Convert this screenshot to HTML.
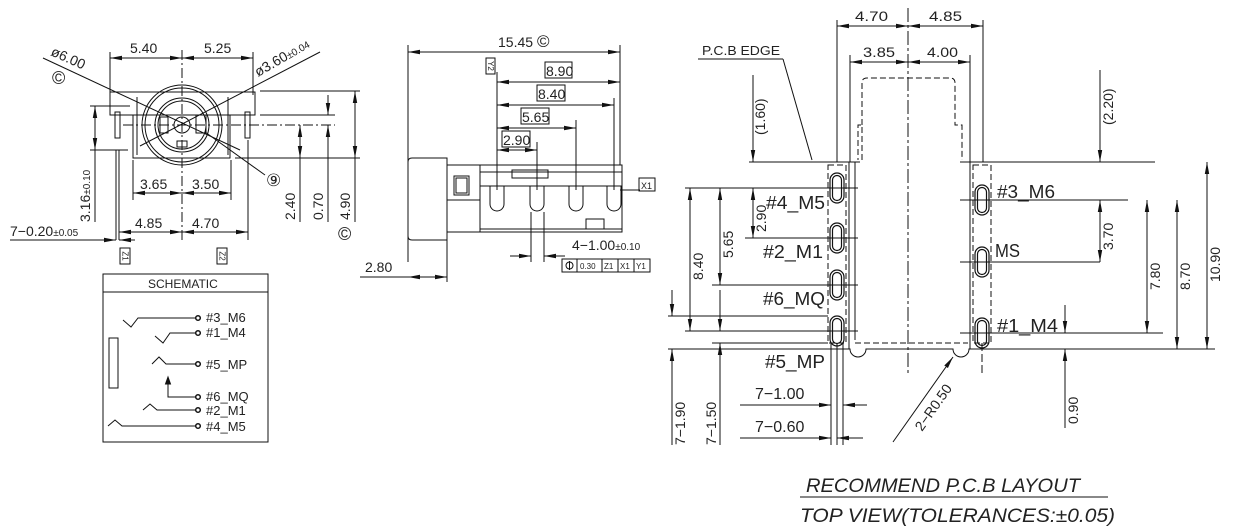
<!DOCTYPE html>
<html><head><meta charset="utf-8"><style>
html,body{margin:0;padding:0;background:#fff}
svg{display:block}
text{font-family:"Liberation Sans",sans-serif;fill:#222}
</style></head><body>
<svg width="1244" height="532" viewBox="0 0 1244 532" xmlns="http://www.w3.org/2000/svg">
<defs>
<marker id="a" markerWidth="12" markerHeight="6" refX="12" refY="3" orient="auto-start-reverse" markerUnits="userSpaceOnUse"><path d="M0,0.8 L12,3 L0,5.2z" fill="#111"/></marker>
</defs>
<g stroke="#111" stroke-width="1" fill="none">
<!-- LEFT VIEW -->
<line x1="110" y1="52" x2="110" y2="95"/><line x1="253" y1="52" x2="253" y2="95"/>
<line x1="110" y1="58" x2="182" y2="58" marker-start="url(#a)" marker-end="url(#a)"/>
<line x1="182" y1="58" x2="253" y2="58" marker-start="url(#a)" marker-end="url(#a)"/>
<line x1="182" y1="50" x2="182" y2="240" stroke-dasharray="10,3,2,3"/>
<line x1="123" y1="125" x2="335" y2="125" stroke-dasharray="10,3,2,3"/>
<rect x="110" y="92" width="145" height="23"/>
<path d="M133 115 V158 H230 V115"/>
<path d="M137 97 V155 M228 97 V155"/>
<circle cx="182" cy="125" r="40"/><circle cx="182" cy="125" r="37"/>
<circle cx="182" cy="125" r="27"/><circle cx="182" cy="125" r="24"/>
<circle cx="182" cy="125" r="8"/>
<rect x="160" y="117" width="8" height="16"/><rect x="196" y="115" width="10" height="18"/><rect x="177" y="141" width="10" height="6"/>
<rect x="115" y="112" width="5" height="26"/><rect x="245" y="112" width="5" height="26"/>
<line x1="116" y1="150" x2="116" y2="240"/><line x1="119" y1="150" x2="119" y2="240"/>
<line x1="43" y1="58" x2="240" y2="150"/><line x1="320" y1="52" x2="140" y2="146"/>
<line x1="205" y1="132" x2="265" y2="175"/>
<line x1="90" y1="106" x2="130" y2="106"/><line x1="90" y1="150" x2="128" y2="150"/>
<line x1="95" y1="106" x2="95" y2="150" marker-start="url(#a)" marker-end="url(#a)"/>
<line x1="95" y1="150" x2="95" y2="222"/>
<line x1="133" y1="160" x2="133" y2="200"/><line x1="231" y1="160" x2="231" y2="200"/>
<line x1="133" y1="193" x2="182" y2="193" marker-start="url(#a)" marker-end="url(#a)"/>
<line x1="182" y1="193" x2="231" y2="193" marker-start="url(#a)" marker-end="url(#a)"/>
<line x1="248" y1="140" x2="248" y2="240"/>
<line x1="119" y1="232" x2="182" y2="232" marker-start="url(#a)" marker-end="url(#a)"/>
<line x1="182" y1="232" x2="248" y2="232" marker-start="url(#a)" marker-end="url(#a)"/>
<line x1="10" y1="240" x2="116" y2="240" marker-end="url(#a)"/><line x1="135" y1="240" x2="119" y2="240" marker-end="url(#a)"/>
<line x1="260" y1="91" x2="360" y2="91"/><line x1="260" y1="115" x2="335" y2="115"/><line x1="235" y1="158" x2="360" y2="158"/>
<line x1="300" y1="125" x2="300" y2="158" marker-start="url(#a)" marker-end="url(#a)"/><line x1="300" y1="158" x2="300" y2="222"/>
<line x1="328" y1="95" x2="328" y2="115" marker-end="url(#a)"/><line x1="328" y1="145" x2="328" y2="125" marker-end="url(#a)"/><line x1="328" y1="145" x2="328" y2="222"/>
<line x1="355" y1="91" x2="355" y2="158" marker-start="url(#a)" marker-end="url(#a)"/><line x1="355" y1="158" x2="355" y2="222"/>
<rect x="120" y="248" width="10" height="16"/><rect x="217" y="248" width="10" height="16"/>
<!-- SCHEMATIC -->
<rect x="103" y="274" width="165" height="168"/><line x1="103" y1="292" x2="268" y2="292"/>
<path d="M123 320 L131 327 L138 318 H195"/><path d="M155 336 L163 343 L170 333 H195"/>
<rect x="109" y="338" width="9" height="50"/>
<path d="M152 364 L159 357 L166 364 H195"/>
<path d="M168 384 V397 H195"/><path d="M168 377 l-2.5 7 h5z" fill="#111"/>
<path d="M143 410 L150 404 L157 410 H195"/><path d="M108 426 L115 420 L122 426 H195"/>
<g fill="#fff" stroke-width="1.5"><circle cx="198" cy="318" r="2.3"/><circle cx="198" cy="333" r="2.3"/><circle cx="198" cy="364" r="2.3"/><circle cx="198" cy="397" r="2.3"/><circle cx="198" cy="410" r="2.3"/><circle cx="198" cy="426" r="2.3"/></g>
<!-- MIDDLE VIEW -->
<line x1="408" y1="45" x2="408" y2="262"/><line x1="620" y1="45" x2="620" y2="165"/>
<line x1="408" y1="52" x2="620" y2="52" marker-start="url(#a)" marker-end="url(#a)"/>
<rect x="486" y="58" width="9" height="16"/>
<line x1="497" y1="72" x2="497" y2="190"/>
<line x1="497" y1="82" x2="620" y2="82" marker-start="url(#a)" marker-end="url(#a)"/>
<line x1="614" y1="98" x2="614" y2="190"/>
<line x1="497" y1="105" x2="614" y2="105" marker-start="url(#a)" marker-end="url(#a)"/>
<line x1="576" y1="120" x2="576" y2="190"/>
<line x1="497" y1="128" x2="576" y2="128" marker-start="url(#a)" marker-end="url(#a)"/>
<line x1="537" y1="142" x2="537" y2="190"/>
<line x1="497" y1="150" x2="537" y2="150" marker-start="url(#a)" marker-end="url(#a)"/>
<rect x="545" y="62" width="27" height="16"/><rect x="537" y="85" width="28" height="16"/><rect x="521" y="108" width="28" height="16"/><rect x="502" y="131" width="28" height="16"/>
<path d="M412 158 H447 V240 H412 Q408 240 408 236 V162 Q408 158 412 158z"/>
<rect x="447" y="165" width="175" height="67"/>
<line x1="480" y1="165" x2="480" y2="232"/><line x1="447" y1="200" x2="480" y2="200"/>
<rect x="454" y="176" width="15" height="19"/><rect x="456" y="178" width="11" height="15"/>
<line x1="480" y1="186" x2="622" y2="186"/><line x1="480" y1="172" x2="622" y2="172"/>
<rect x="512" y="170" width="36" height="8"/>
<line x1="480" y1="229" x2="622" y2="229"/>
<rect x="586" y="219" width="18" height="10"/>
<path d="M490 186 V204 A7 7 0 0 0 504 204 V186"/><path d="M530 186 V204 A7 7 0 0 0 544 204 V186"/>
<path d="M569 186 V204 A7 7 0 0 0 583 204 V186"/><path d="M607 186 V204 A7 7 0 0 0 621 204 V186"/>
<line x1="620" y1="190" x2="640" y2="190"/><rect x="639" y="178" width="16" height="13"/>
<line x1="531" y1="212" x2="531" y2="262"/><line x1="544" y1="212" x2="544" y2="262"/>
<line x1="510" y1="256" x2="531" y2="256" marker-end="url(#a)"/><line x1="565" y1="256" x2="544" y2="256" marker-end="url(#a)"/>
<rect x="562" y="259" width="88" height="13"/><line x1="577" y1="259" x2="577" y2="272"/><line x1="602" y1="259" x2="602" y2="272"/><line x1="618" y1="259" x2="618" y2="272"/><line x1="634" y1="259" x2="634" y2="272"/>
<circle cx="569.5" cy="265.5" r="3.5"/><line x1="569.5" y1="261" x2="569.5" y2="270"/>
<line x1="360" y1="277" x2="408" y2="277"/>
<line x1="408" y1="277" x2="447" y2="277" marker-start="url(#a)" marker-end="url(#a)"/><line x1="447" y1="240" x2="447" y2="282"/>
<!-- RIGHT VIEW -->
<line x1="837" y1="20" x2="837" y2="162"/><line x1="983" y1="20" x2="983" y2="162"/>
<line x1="837" y1="26" x2="908" y2="26" marker-start="url(#a)" marker-end="url(#a)"/>
<line x1="908" y1="26" x2="983" y2="26" marker-start="url(#a)" marker-end="url(#a)"/>
<line x1="850" y1="55" x2="850" y2="162"/><line x1="970" y1="55" x2="970" y2="162"/>
<line x1="850" y1="62" x2="908" y2="62" marker-start="url(#a)" marker-end="url(#a)"/>
<line x1="908" y1="62" x2="970" y2="62" marker-start="url(#a)" marker-end="url(#a)"/>
<line x1="908" y1="8" x2="908" y2="373" stroke-dasharray="14,3,3,3"/>
<line x1="698" y1="59" x2="783" y2="59"/><line x1="783" y1="59" x2="812" y2="160"/>
<path d="M862 160 V125 H858 V160" stroke-dasharray="6,3"/>
<path d="M862 125 V83 Q862 78 867 78 H950 Q955 78 955 83 V125 H962 V160" stroke-dasharray="6,3"/>
<line x1="749" y1="162" x2="790" y2="162"/><line x1="786" y1="162" x2="855" y2="162"/>
<line x1="855" y1="162" x2="860" y2="162"/><line x1="960" y1="162" x2="1155" y2="162"/>
<line x1="855" y1="162" x2="855" y2="340"/>
<line x1="970" y1="162" x2="970" y2="349"/>
<line x1="849" y1="162" x2="849" y2="349"/>
<path d="M849 349 H850 A8 8 0 0 0 866 349 H953 A8 8 0 0 0 969 349 H970"/>
<line x1="668" y1="349" x2="849" y2="349"/><line x1="970" y1="349" x2="1215" y2="349"/>
<rect x="828" y="165" width="18" height="178" stroke-dasharray="6,3"/>
<rect x="973" y="165" width="18" height="178" stroke-dasharray="6,3"/>
<path d="M855 343 H968" stroke-dasharray="6,3"/>
<line x1="837" y1="343" x2="837" y2="445"/><line x1="843" y1="343" x2="843" y2="445"/><line x1="831" y1="343" x2="831" y2="445"/>
<line x1="982" y1="343" x2="982" y2="375" stroke-dasharray="8,3"/>
<g stroke-width="1.2">
<rect x="830" y="173" width="14" height="30" rx="7"/><rect x="832.5" y="175.5" width="9" height="25" rx="4.5"/>
<rect x="830" y="223" width="14" height="30" rx="7"/><rect x="832.5" y="225.5" width="9" height="25" rx="4.5"/>
<rect x="830" y="270" width="14" height="30" rx="7"/><rect x="832.5" y="272.5" width="9" height="25" rx="4.5"/>
<rect x="830" y="316" width="14" height="30" rx="7"/><rect x="832.5" y="318.5" width="9" height="25" rx="4.5"/>
<rect x="975" y="185" width="14" height="30" rx="7"/><rect x="977.5" y="187.5" width="9" height="25" rx="4.5"/>
<rect x="975" y="247" width="14" height="30" rx="7"/><rect x="977.5" y="249.5" width="9" height="25" rx="4.5"/>
<rect x="975" y="318" width="14" height="30" rx="7"/><rect x="977.5" y="320.5" width="9" height="25" rx="4.5"/>
</g>
<line x1="685" y1="188" x2="858" y2="188"/><line x1="745" y1="238" x2="858" y2="238"/>
<line x1="712" y1="285" x2="858" y2="285"/><line x1="668" y1="316" x2="828" y2="316"/>
<line x1="685" y1="331" x2="858" y2="331"/><line x1="712" y1="343" x2="828" y2="343"/>
<line x1="960" y1="200" x2="1128" y2="200"/><line x1="960" y1="262" x2="1060" y2="262"/><line x1="1060" y1="262" x2="1100" y2="262"/>
<line x1="960" y1="333" x2="1163" y2="333"/>
<line x1="690" y1="188" x2="690" y2="331" marker-start="url(#a)" marker-end="url(#a)"/>
<line x1="720" y1="188" x2="720" y2="285" marker-start="url(#a)" marker-end="url(#a)"/>
<line x1="753" y1="75" x2="753" y2="162" marker-end="url(#a)"/>
<line x1="753" y1="188" x2="753" y2="238" marker-start="url(#a)" marker-end="url(#a)"/>
<line x1="672" y1="290" x2="672" y2="316" marker-end="url(#a)"/><line x1="672" y1="375" x2="672" y2="349" marker-end="url(#a)"/><line x1="672" y1="375" x2="672" y2="445"/>
<line x1="720" y1="290" x2="720" y2="331" marker-end="url(#a)"/><line x1="720" y1="375" x2="720" y2="343" marker-end="url(#a)"/><line x1="720" y1="375" x2="720" y2="445"/>
<line x1="740" y1="405" x2="831" y2="405" marker-end="url(#a)"/><line x1="867" y1="405" x2="843" y2="405" marker-end="url(#a)"/>
<line x1="740" y1="438" x2="831" y2="438" marker-end="url(#a)"/><line x1="863" y1="438" x2="837" y2="438" marker-end="url(#a)"/>
<line x1="893" y1="442" x2="953" y2="357" marker-end="url(#a)"/>
<line x1="1100" y1="70" x2="1100" y2="162" marker-end="url(#a)"/>
<line x1="1100" y1="200" x2="1100" y2="262" marker-start="url(#a)" marker-end="url(#a)"/>
<line x1="1147" y1="200" x2="1147" y2="333" marker-start="url(#a)" marker-end="url(#a)"/>
<line x1="1177" y1="200" x2="1177" y2="349" marker-start="url(#a)" marker-end="url(#a)"/>
<line x1="1207" y1="162" x2="1207" y2="349" marker-start="url(#a)" marker-end="url(#a)"/>
<line x1="1065" y1="305" x2="1065" y2="333" marker-end="url(#a)"/><line x1="1065" y1="375" x2="1065" y2="349" marker-end="url(#a)"/><line x1="1065" y1="375" x2="1065" y2="428"/>
<line x1="800" y1="497" x2="1108" y2="497"/>
</g>
<!-- TEXT -->
<g font-size="14">
<text x="130" y="53">5.40</text><text x="204" y="53">5.25</text>
<text x="50" y="55" transform="rotate(24 50 55)">ø6.00</text>
<text x="52" y="84" font-size="18">©</text>
<text x="258" y="77" transform="rotate(-30 258 77)">ø3.60<tspan font-size="10">±0.04</tspan></text>
<text x="266" y="186" font-size="17">⑨</text>
<text x="140" y="189">3.65</text><text x="192" y="189">3.50</text>
<text x="135" y="228">4.85</text><text x="192" y="228">4.70</text>
<text x="10" y="236">7−0.20<tspan font-size="10">±0.05</tspan></text>
<text x="90" y="222" transform="rotate(-90 90 222)">3.16<tspan font-size="10">±0.10</tspan></text>
<text x="295" y="220" transform="rotate(-90 295 220)">2.40</text>
<text x="323" y="220" transform="rotate(-90 323 220)">0.70</text>
<text x="350" y="220" transform="rotate(-90 350 220)">4.90</text>
<text x="338" y="240" font-size="18">©</text>
<text x="125" y="256" font-size="8" text-anchor="middle" dominant-baseline="central" transform="rotate(90 125 256)">Z1</text>
<text x="222" y="256" font-size="8" text-anchor="middle" dominant-baseline="central" transform="rotate(90 222 256)">Z2</text>
<text x="148" y="288" font-size="12">SCHEMATIC</text>
<g font-size="13"><text x="206" y="322">#3_M6</text><text x="206" y="337">#1_M4</text><text x="206" y="369">#5_MP</text><text x="206" y="401">#6_MQ</text><text x="206" y="415">#2_M1</text><text x="206" y="431">#4_M5</text></g>
<text x="498" y="47">15.45 <tspan font-size="17">©</tspan></text>
<text x="490.5" y="66" font-size="8" text-anchor="middle" dominant-baseline="central" transform="rotate(90 490.5 66)">Y2</text>
<text x="546" y="76">8.90</text><text x="538" y="99">8.40</text><text x="522" y="122">5.65</text><text x="503" y="145">2.90</text>
<text x="641" y="189" font-size="9">X1</text>
<text x="572" y="250">4−1.00<tspan font-size="10">±0.10</tspan></text>
<g font-size="8"><text x="580" y="269">0.30</text><text x="604" y="269">Z1</text><text x="620" y="269">X1</text><text x="636" y="269">Y1</text></g>
<text x="365" y="272">2.80</text>
<g lengthAdjust="spacingAndGlyphs">
<text x="855" y="21" textLength="33" lengthAdjust="spacingAndGlyphs">4.70</text><text x="929" y="21" textLength="33" lengthAdjust="spacingAndGlyphs">4.85</text>
<text x="863" y="57" textLength="32" lengthAdjust="spacingAndGlyphs">3.85</text><text x="927" y="57" textLength="31" lengthAdjust="spacingAndGlyphs">4.00</text>
<text x="702" y="55" font-size="13" textLength="78" lengthAdjust="spacingAndGlyphs">P.C.B  EDGE</text>
</g>
<text x="765" y="135" transform="rotate(-90 765 135)">(1.60)</text>
<text x="1113" y="125" transform="rotate(-90 1113 125)">(2.20)</text>
<text x="766" y="232" transform="rotate(-90 766 232)">2.90</text>
<text x="733" y="258" transform="rotate(-90 733 258)">5.65</text>
<text x="703" y="280" transform="rotate(-90 703 280)">8.40</text>
<text x="685" y="445" transform="rotate(-90 685 445)">7−1.90</text>
<text x="716" y="445" transform="rotate(-90 716 445)">7−1.50</text>
<text x="1113" y="250" transform="rotate(-90 1113 250)">3.70</text>
<text x="1160" y="290" transform="rotate(-90 1160 290)">7.80</text>
<text x="1190" y="290" transform="rotate(-90 1190 290)">8.70</text>
<text x="1220" y="282" transform="rotate(-90 1220 282)">10.90</text>
<text x="1078" y="424" transform="rotate(-90 1078 424)">0.90</text>
<text x="922" y="432" transform="rotate(-55 922 432)">2−R0.50</text>
<text x="755" y="399" font-size="16">7−1.00</text><text x="755" y="432" font-size="16">7−0.60</text>
<g font-size="18">
<text x="766" y="209" textLength="59" lengthAdjust="spacingAndGlyphs">#4_M5</text>
<text x="763" y="258" textLength="60" lengthAdjust="spacingAndGlyphs">#2_M1</text>
<text x="763" y="305" textLength="62" lengthAdjust="spacingAndGlyphs">#6_MQ</text>
<text x="765" y="368" textLength="60" lengthAdjust="spacingAndGlyphs">#5_MP</text>
<text x="997" y="198" textLength="58" lengthAdjust="spacingAndGlyphs">#3_M6</text>
<text x="995" y="257" textLength="25" lengthAdjust="spacingAndGlyphs">MS</text>
<text x="997" y="332" textLength="61" lengthAdjust="spacingAndGlyphs">#1_M4</text>
</g>
<text x="806" y="492" font-size="19" font-style="italic" textLength="274" lengthAdjust="spacingAndGlyphs">RECOMMEND P.C.B LAYOUT</text>
<text x="800" y="522" font-size="19" font-style="italic" textLength="315" lengthAdjust="spacingAndGlyphs">TOP VIEW(TOLERANCES:±0.05)</text>
</g>
</svg>
</body></html>
